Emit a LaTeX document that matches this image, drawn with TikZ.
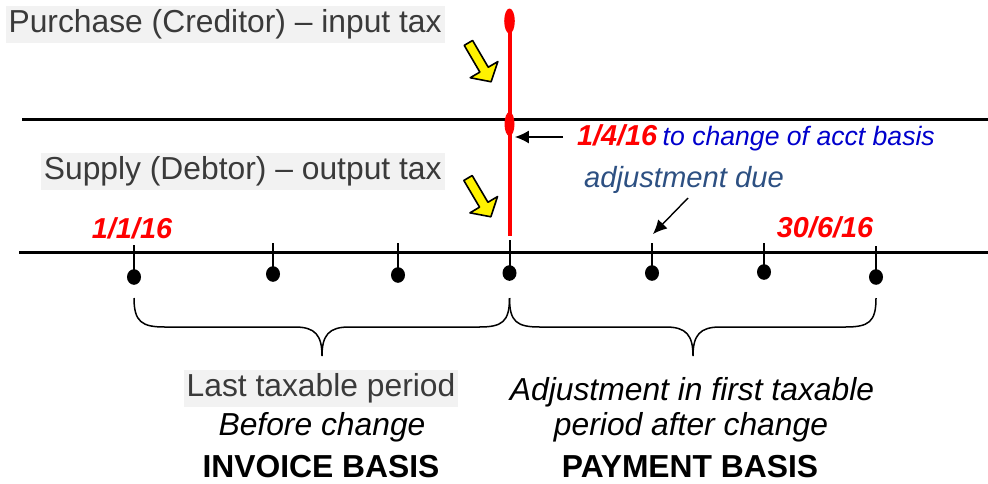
\documentclass[tikz,border=0pt]{standalone}
\usepackage{fontspec}
\setmainfont{Liberation Sans}
\usepackage{tikz}
\usetikzlibrary{shapes.geometric, arrows.meta, calc, positioning}
\usepackage{xcolor}

\definecolor{boxgray}{RGB}{242,242,242}
\definecolor{txtgray}{RGB}{58,58,58}
\definecolor{acctblue}{RGB}{0,0,204}
\definecolor{duecolor}{RGB}{45,80,130}
\newcommand{\datefont}{\fontsize{14.4}{17}\selectfont\bfseries\itshape\color{red}}

\begin{document}
\begin{tikzpicture}[x=0.5pt, y=-0.5pt,
    mainfont/.style={font=\fontsize{15.9}{19}\selectfont},
    itext/.style={font=\fontsize{15.9}{19}\selectfont\itshape},
    btext/.style={font=\fontsize{15.9}{19}\selectfont\bfseries},
    graybox/.style={mainfont, fill=boxgray, text=txtgray, inner xsep=1.5pt, inner ysep=0pt, minimum height=18.5pt},
    datelbl/.style={font=\datefont, inner sep=0pt},
    redmark/.style={ellipse, fill=red, inner sep=0pt},
    dot/.style={ellipse, fill=black, inner sep=0pt, minimum width=7pt, minimum height=7.8pt},
    pointer/.style={-{Latex[length=7pt, width=6.5pt]}, line width=0.7pt},
    yarrow/.pic={\draw[fill=yellow, line width=0.8pt, line join=round]
        (0,-4.85) -- (31,-4.85) -- (31,-16) -- (45,0) -- (31,16) -- (31,4.85) -- (0,4.85) -- cycle;}
]

    \useasboundingbox (0,0) rectangle (988,483);

    %horizontal lines
    \draw [line width=1.5pt] (22,119.5) -- (988,119.5);
    \draw [line width=1.5pt] (19,252) -- (988,252);

    %red line
    \draw [red, line width=2pt] (509.5,10) -- (509.5,236);
    \node[redmark, minimum width=5.3pt, minimum height=12.5pt] (topmark) at (509.5,21) {};
    \node[redmark, minimum width=5pt, minimum height=12pt] (changemark) at (509.5,124) {};

    %ticks
    \foreach \x/\t/\d [count=\i] in {134/245/277, 273/243/274, 398/243/275, 509.5/240/273, 652/243/273, 764/243/272, 876/246/277}
    {
        \draw [line width=1pt] (\x,\t) -- (\x,\d);
        \node[dot] (tick\i) at (\x,\d) {};
    }

    %braces
    \draw [line width=0.75pt] (134,298) .. controls (134,322) and (142,327) .. (165,327) -- (295,327)
        .. controls (315,327) and (322,335) .. (322,356) .. controls (322,335) and (329,327) .. (349,327)
        -- (479,327) .. controls (502,327) and (509.5,322) .. (509.5,298);
    \draw [line width=0.75pt] (509.5,298) .. controls (509.5,322) and (517,327) .. (540,327) -- (666,327)
        .. controls (686,327) and (693,335) .. (693,356) .. controls (693,335) and (700,327) .. (720,327)
        -- (845,327) .. controls (869,327) and (876,322) .. (876,298);

    %yellow arrows
    \pic[rotate=-59.7] at (468.4,42.9) {yarrow};
    \pic[rotate=-59.5] at (468,178) {yarrow};

    %nodes
    \node[graybox, anchor=east] (purchase) at (445,24.5) {Purchase (Creditor) -- input tax};
    \node[graybox, anchor=east] (supply) at (445,171.5) {Supply (Debtor) -- output tax};

    \node[datelbl] (startdate) at (132,228) {1/1/16};
    \node[datelbl] (enddate) at (825,227) {30/6/16};
    \node[anchor=west, inner sep=0pt] (changetxt) at (576.7,138)
        {{\datefont 1/4/16} {\color{acctblue}\fontsize{13.3}{16}\selectfont\itshape to change of acct basis}};
    \node[font=\fontsize{14.6}{17}\selectfont\itshape, text=duecolor, inner sep=0pt] (duetxt) at (684,180) {adjustment due};

    \node[graybox] (lastperiod) at (321,388) {Last taxable period};
    \node[itext] (beforechange) at (322,427) {Before change};
    \node[btext] (invoice) at (321,467) {INVOICE BASIS};
    \node[itext] (adjfirst) at (692,392) {Adjustment in first taxable};
    \node[itext] (afterchange) at (691,427) {period after change};
    \node[btext] (payment) at (690,467) {PAYMENT BASIS};

    %pointers
    \coordinate (chgstart) at (563,137);
    \draw [pointer] (chgstart) -- (chgstart -| changemark.east);
    \coordinate (duestart) at (688,198);
    \coordinate (duetip) at (653,234);
    \draw [pointer] (duestart) -- (duetip);

\end{tikzpicture}
\end{document}
